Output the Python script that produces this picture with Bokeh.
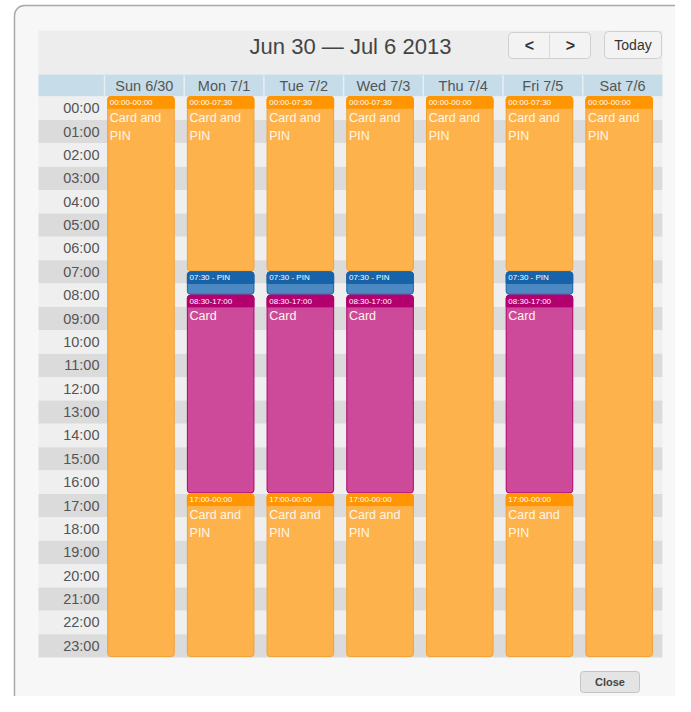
from bokeh.plotting import figure
from bokeh.models import Range1d, ColumnDataSource
from bokeh.core.properties import value
from bokeh.embed import file_html
from bokeh.resources import INLINE

# ---------------- data ----------------
title_text = "Jun 30 \u2014 Jul 6 2013"
days = ["Sun 6/30", "Mon 7/1", "Tue 7/2", "Wed 7/3", "Thu 7/4", "Fri 7/5", "Sat 7/6"]
hour_labels = ["00:00", "01:00", "02:00", "03:00", "04:00", "05:00", "06:00", "07:00",
               "08:00", "09:00", "10:00", "11:00", "12:00", "13:00", "14:00", "15:00",
               "16:00", "17:00", "18:00", "19:00", "20:00", "21:00", "22:00", "23:00"]

ev_day = [0,
          1, 1, 1, 1,
          2, 2, 2, 2,
          3, 3, 3, 3,
          4,
          5, 5, 5, 5,
          6]
ev_start = [0,
            0, 7.5, 8.5, 17,
            0, 7.5, 8.5, 17,
            0, 7.5, 8.5, 17,
            0,
            0, 7.5, 8.5, 17,
            0]
ev_end = [24,
          7.5, 8.5, 17, 24,
          7.5, 8.5, 17, 24,
          7.5, 8.5, 17, 24,
          24,
          7.5, 8.5, 17, 24,
          24]
ev_kind = ["card_pin",
           "card_pin", "pin", "card", "card_pin",
           "card_pin", "pin", "card", "card_pin",
           "card_pin", "pin", "card", "card_pin",
           "card_pin",
           "card_pin", "pin", "card", "card_pin",
           "card_pin"]
ev_head = ["00:00-00:00",
           "00:00-07:30", "07:30 - PIN", "08:30-17:00", "17:00-00:00",
           "00:00-07:30", "07:30 - PIN", "08:30-17:00", "17:00-00:00",
           "00:00-07:30", "07:30 - PIN", "08:30-17:00", "17:00-00:00",
           "00:00-00:00",
           "00:00-07:30", "07:30 - PIN", "08:30-17:00", "17:00-00:00",
           "00:00-00:00"]
ev_label = {"card_pin": "Card and\nPIN", "pin": "", "card": "Card"}

kind_body = {"card_pin": "#FEB24C", "pin": "#4C88C2", "card": "#CD4A9B"}
kind_head = {"card_pin": "#FF9500", "pin": "#1763A9", "card": "#B3006F"}
kind_line = {"card_pin": "#F2A033", "pin": "#1763A9", "card": "#B3006F"}

# ---------------- layout (pixel geometry of the reference) ----------------
W, H = 675, 696
OFF = 0
GRID_X0 = 104            # px of day column 0
DAY_W = 79.7             # px per day
GRID_Y0 = 96             # px of 00:00
HOUR_H = 23.375          # px per hour


def dx(X):
    return (X - GRID_X0) / DAY_W


def dy(Y):
    return (Y - GRID_Y0) / HOUR_H


x0, x1 = dx(OFF), dx(OFF + W)
y_top, y_bot = dy(OFF), dy(OFF + H)

p = figure(width=W, height=H, x_range=Range1d(x0, x1), y_range=Range1d(y_bot, y_top),
           x_axis_type=None, y_axis_type=None, output_backend="svg",
           toolbar_location=None, min_border=0)
p.outline_line_color = None
p.background_fill_color = "white"
p.border_fill_color = "white"
p.grid.visible = False

FONT = value("Liberation Sans")

# dialog box
p.quad(left=[dx(14)], right=[dx(683)], top=[dy(5)], bottom=[dy(708)],
       fill_color="#F7F7F7", line_color="#A8A8A8", line_width=1.5, border_radius=10)

# title bar
p.quad(left=[dx(38)], right=[dx(662)], top=[dy(30)], bottom=[dy(74)],
       fill_color="#EDEDED", line_color=None)
p.text(x=[dx(350)], y=[dy(46)], text=[title_text], text_font=FONT, text_font_size="22px",
       text_color="#444444", text_align="center", text_baseline="middle")

# nav buttons
p.quad(left=[dx(508)], right=[dx(590)], top=[dy(32)], bottom=[dy(58)],
       fill_color="#F3F3F3", line_color="#CFCFCF", border_radius=4)
p.segment(x0=[dx(549)], y0=[dy(33)], x1=[dx(549)], y1=[dy(57)], line_color="#D8D8D8")
p.text(x=[dx(529), dx(570)], y=[dy(45), dy(45)], text=["<", ">"], text_font=FONT,
       text_font_size="16px", text_font_style="bold", text_color="#333333",
       text_align="center", text_baseline="middle")
p.quad(left=[dx(604)], right=[dx(661)], top=[dy(31)], bottom=[dy(58)],
       fill_color="#F3F3F3", line_color="#CFCFCF", border_radius=4)
p.text(x=[dx(632.5)], y=[dy(44.5)], text=["Today"], text_font=FONT, text_font_size="14px",
       text_color="#333333", text_align="center", text_baseline="middle")

# day header row
p.quad(left=[dx(38)], right=[7], top=[dy(74)], bottom=[0],
       fill_color="#C6DDE9", line_color=None)
p.segment(x0=list(range(7)), y0=[dy(75)] * 7, x1=list(range(7)), y1=[dy(95)] * 7,
          line_color="#E6EFF4", line_width=1.5)
p.text(x=[i + 0.5 for i in range(len(days))], y=[dy(85)] * len(days), text=days,
       text_font=FONT, text_font_size="14.5px", text_color="#555555",
       text_align="center", text_baseline="middle")

# hour stripes
hours = list(range(len(hour_labels)))
p.quad(left=dx(38), right=7, top=hours, bottom=[h + 1 for h in hours],
       fill_color=["#EFEFEF" if h % 2 == 0 else "#DBDBDB" for h in hours], line_color=None)
p.text(x=[dx(99)] * len(hours), y=[h + 0.5 for h in hours], text=hour_labels,
       text_font=FONT, text_font_size="14.5px", text_color="#555555",
       text_align="right", text_baseline="middle")

# events
left = [d + 0.04 for d in ev_day]
right = [d + 0.875 for d in ev_day]
src = ColumnDataSource(dict(
    left=left, right=right, top=ev_start, bottom=[e - 0.04 for e in ev_end],
    head_bottom=[s + 0.5 for s in ev_start],
    body=[kind_body[k] for k in ev_kind], head=[kind_head[k] for k in ev_kind],
    line=[kind_line[k] for k in ev_kind],
    head_text=ev_head, label=[ev_label[k] for k in ev_kind],
    tx=[l + 0.027 for l in left], hy=[s + 0.26 for s in ev_start],
    by=[s + 0.6 for s in ev_start],
))
p.quad(left="left", right="right", top="top", bottom="bottom", source=src,
       fill_color="body", line_color="line", line_width=1, border_radius=3)
p.quad(left="left", right="right", top="top", bottom="head_bottom", source=src,
       fill_color="head", line_color="head", line_width=1, border_radius=(3, 3, 0, 0))
p.text(x="tx", y="hy", text="head_text", source=src, text_font=FONT,
       text_font_size="8px", text_color="white", text_align="left", text_baseline="middle")
p.text(x="tx", y="by", text="label", source=src, text_font=FONT,
       text_font_size="12.5px", text_color="#FFF6E8", text_align="left",
       text_baseline="top", text_line_height=1.3)

# close button
p.quad(left=[dx(580)], right=[dx(639)], top=[dy(671)], bottom=[dy(692)],
       fill_color="#E4E4E4", line_color="#C4C4C4", border_radius=3)
p.text(x=[dx(609.5)], y=[dy(681.5)], text=["Close"], text_font=FONT, text_font_size="11px",
       text_font_style="bold", text_color="#444444", text_align="center",
       text_baseline="middle")

open("out.html", "w").write(file_html(p, INLINE))
